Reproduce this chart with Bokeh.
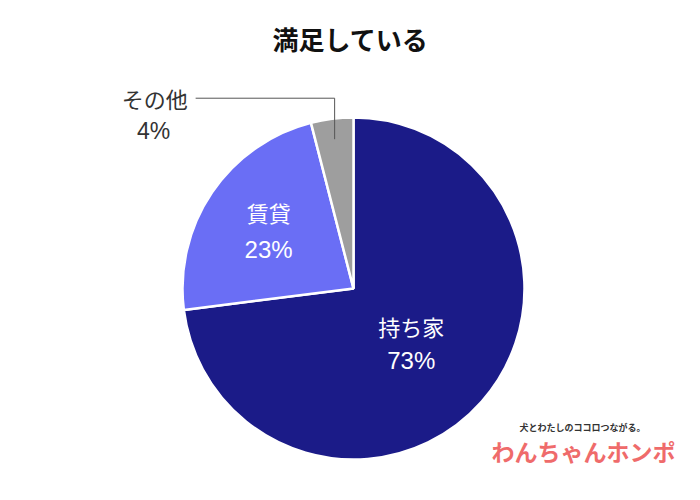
import math
from bokeh.plotting import figure
from bokeh.models import ColumnDataSource, Range1d
from bokeh.core.properties import value
from bokeh.embed import file_html
from bokeh.resources import INLINE

title = "満足している"
categories = ["持ち家", "賃貸", "その他"]
percents = [73, 23, 4]
colors = ["#1b1b88", "#6a6ef5", "#9e9e9e"]
label_colors = ["#ffffff", "#ffffff", "#333333"]
label_radius = [0.45, 0.6, 0.88]
tagline = "犬とわたしのココロつながる。"
brand = "わんちゃんホンポ"

W, H = 684, 484
CX, CY, R = 353, 196, 171

p = figure(width=W, height=H, output_backend="svg", toolbar_location=None,
           x_range=Range1d(0, W), y_range=Range1d(0, H), min_border=0)
p.axis.visible = False
p.grid.visible = False
p.outline_line_color = None
p.background_fill_color = "white"
p.border_fill_color = "white"

total = sum(percents)
starts, ends, mids = [], [], []
acc = 0.0
for v in percents:
    a0 = math.pi / 2 - 2 * math.pi * acc / total
    acc += v
    a1 = math.pi / 2 - 2 * math.pi * acc / total
    starts.append(a0)
    ends.append(a1)
    mids.append((a0 + a1) / 2)

src = ColumnDataSource(dict(x=[CX] * 3, y=[CY] * 3, s=starts, e=ends, c=colors))
p.wedge(x="x", y="y", radius=R, start_angle="s", end_angle="e", direction="clock",
        fill_color="c", line_color="white", line_width=2.5, source=src)

font = value("Liberation Sans, Noto Sans CJK JP")
jfont = value("Noto Sans CJK JP")

# inside labels
offs = [(13, -21), (19, -19)]
for i in range(2):
    lx = CX + label_radius[i] * R * math.cos(mids[i])
    ly = CY + label_radius[i] * R * math.sin(mids[i])
    up, dn = offs[i]
    p.text(x=[lx], y=[ly + up], text=[categories[i]], text_color=label_colors[i],
           text_font=jfont, text_font_size="22px", text_align="center", text_baseline="middle")
    p.text(x=[lx], y=[ly + dn], text=[f"{percents[i]}%"], text_color=label_colors[i],
           text_font=font, text_font_size="24px", text_align="center", text_baseline="middle")

# outside label with leader
i = 2
ax = CX + label_radius[i] * R * math.cos(mids[i])
ay = CY + label_radius[i] * R * math.sin(mids[i])
ey = ay + 41
ex = ax - 139
p.line(x=[ax, ax, ex], y=[ay, ey, ey], line_color="#555555", line_width=1)
p.text(x=[ex - 41], y=[ey], text=[categories[i]], text_color=label_colors[i],
       text_font=jfont, text_font_size="22px", text_align="center", text_baseline="middle")
p.text(x=[ex - 42], y=[ey - 33], text=[f"{percents[i]}%"], text_color=label_colors[i],
       text_font=font, text_font_size="23px", text_align="center", text_baseline="middle")

# title
p.text(x=[350], y=[446], text=[title], text_color="#111111", text_font=jfont,
       text_font_size="26px", text_font_style="bold", text_align="center", text_baseline="middle")

# logo
p.text(x=[582], y=[57], text=[tagline], text_color="#333333", text_font=jfont,
       text_font_size="9px", text_font_style="bold", text_align="center", text_baseline="middle")
p.text(x=[583], y=[34], text=[brand], text_color="#ef6b6b", text_font=jfont,
       text_font_size="23px", text_font_style="bold", text_align="center", text_baseline="middle")

open("out.html", "w").write(file_html(p, INLINE))
